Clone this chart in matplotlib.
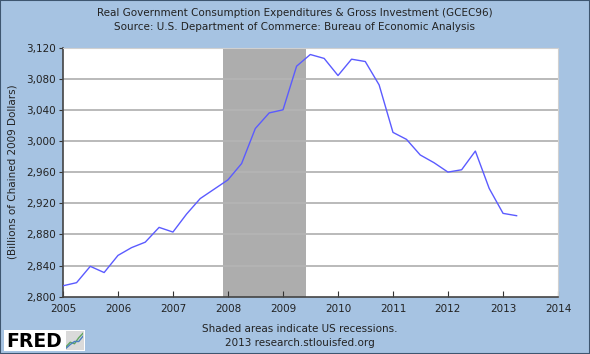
import pandas as pd
import matplotlib.pyplot as plt
import matplotlib.dates as mdates
from matplotlib.ticker import FuncFormatter
from matplotlib.patches import Rectangle

# quarterly values, billions of chained 2009 dollars
quarters = pd.date_range('2005-01-01', periods=34, freq='QS')
gcec = [2814, 2818, 2839, 2831, 2853, 2863, 2870, 2889,
        2883, 2906, 2926, 2938, 2950, 2971, 3016, 3036,
        3040, 3096, 3111, 3106, 3084, 3105, 3102, 3072,
        3011, 3002, 2982, 2972, 2960, 2963, 2987, 2939,
        2907, 2904]
recession = (pd.Timestamp('2007-12-01'), pd.Timestamp('2009-06-01'))
year_ticks = [pd.Timestamp(f'{y}-01-01') for y in range(2005, 2015)]
y_ticks = list(range(2800, 3121, 40))

bg = '#A6C3E2'
fig = plt.figure(figsize=(5.9, 3.54), dpi=100, facecolor=bg)
fig.patches.append(Rectangle((0, 0), 1, 1, transform=fig.transFigure,
                             fill=False, edgecolor='#3E5670', lw=1.5))

ax = fig.add_axes([0.1068, 0.1619, 0.839, 0.7039])
ax.set_facecolor('white')
ax.axvspan(recession[0], recession[1], color='#ADADAD', zorder=1, lw=0)
for v in y_ticks[1:]:
    ax.axhline(v, color='#B4B4B4', lw=1.3, zorder=2)
ax.plot(quarters, gcec, color='#5B5BFF', lw=1.0, zorder=3)

ax.set_xlim(year_ticks[0], year_ticks[-1])
ax.set_ylim(2800, 3120)
ax.set_xticks(year_ticks)
ax.xaxis.set_major_formatter(mdates.DateFormatter('%Y'))
ax.set_yticks(y_ticks)
ax.yaxis.set_major_formatter(FuncFormatter(lambda v, p: f'{int(v):,}'))

ax.tick_params(axis='x', direction='in', length=4, color='#333333',
               labelsize=7.5, labelcolor='#222222', pad=5)
ax.tick_params(axis='y', direction='out', length=3, color='#333333',
               labelsize=7.5, labelcolor='#222222', pad=2)
for s in ['left', 'bottom']:
    ax.spines[s].set_color('#444444')
    ax.spines[s].set_linewidth(1.2)
for s in ['top', 'right']:
    ax.spines[s].set_color('#D0D0D0')
    ax.spines[s].set_linewidth(0.8)

ax.set_ylabel('(Billions of Chained 2009 Dollars)', fontsize=7.5,
              color='#222222', labelpad=6)

fig.text(0.5, 0.962, 'Real Government Consumption Expenditures & Gross Investment (GCEC96)',
         ha='center', va='center', fontsize=7.5, color='#222222')
fig.text(0.5, 0.924, 'Source: U.S. Department of Commerce: Bureau of Economic Analysis',
         ha='center', va='center', fontsize=7.5, color='#222222')

fig.text(0.508, 0.07, 'Shaded areas indicate US recessions.',
         ha='center', va='center', fontsize=7.5, color='#222222')
fig.text(0.508, 0.031, '2013 research.stlouisfed.org',
         ha='center', va='center', fontsize=7.5, color='#222222')

# FRED logo box
fig.patches.append(Rectangle((4 / 590, 3 / 354), 81 / 590, 21 / 354,
                             transform=fig.transFigure, facecolor='white',
                             edgecolor='none', zorder=1))
fig.text(6 / 590, 7 / 354, 'FRED', ha='left', va='baseline', fontsize=13.5,
         fontweight='bold', color='black', zorder=4)
logo = fig.add_axes([66 / 590, 5 / 354, 17 / 590, 18 / 354], zorder=3)
logo.fill_between([0, 4], 0, 2.4, color='#DADADA')
logo.plot([0, 1, 2, 3, 4], [0.3, 0.9, 0.7, 1.5, 2.1], color='#5FA55F', lw=1)
logo.plot([0, 1, 2, 3, 4], [0.1, 0.6, 1.0, 1.0, 1.7], color='#4A7FC0', lw=1)
logo.set_xlim(0, 4)
logo.set_ylim(0, 2.4)
logo.set_facecolor('#F2F2F2')
logo.set_xticks([])
logo.set_yticks([])
for s in logo.spines.values():
    s.set_visible(False)

fig.savefig('out.png', dpi=100, facecolor=bg)
